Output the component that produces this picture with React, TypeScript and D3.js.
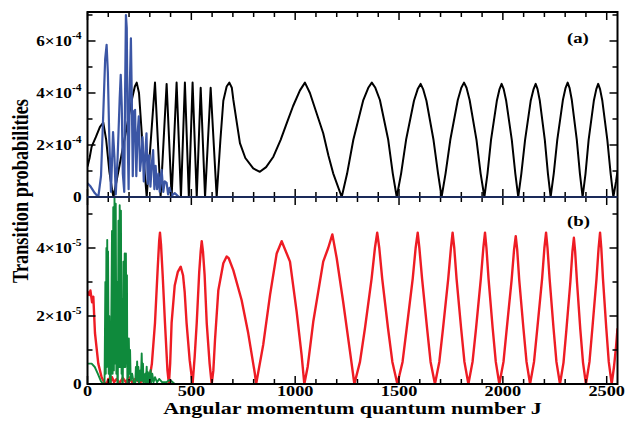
import React from 'react';
import * as d3 from 'd3';

// J (angular momentum) vs transition probability
// panel (a): values in units of 1e-4, panel (b): values in units of 1e-5

const blackA: [number, number][] = [
  [0, 1.17], [10, 1.5], [20, 1.94], [40, 2.3], [60, 2.7], [76, 2.86], [90, 2.2], [105, 1.0], [118, 0.3], [125, 0],
  [180, 2.3], [215, 3.8], [228, 4.25], [237, 4.4], [248, 4.0], [265, 2.0], [285, 0],
  [325, 4.4], [352, 0], [381, 4.35], [405, 0], [429, 4.4], [450, 0], [469, 4.4], [488, 0],
  [506, 4.4], [526, 0], [545, 4.2], [566, 0], [593, 4.2], [622, 0],
  [640, 2.2], [654, 3.7], [670, 4.25], [683, 4.4], [695, 4.2], [702, 3.75], [720, 2.8], [734, 2.07],
  [760, 1.5], [798, 1.1], [830, 0.97], [860, 1.15], [895, 1.55], [930, 2.2], [959, 2.83], [990, 3.5],
  [1023, 4.1], [1047, 4.4], [1071, 4.0], [1100, 3.3], [1135, 2.45], [1160, 1.6], [1183, 0.91], [1224, 0],
  [1250, 0.9], [1280, 2.2], [1328, 3.73], [1352, 4.2], [1369, 4.4], [1386, 4.2], [1408, 3.73], [1448, 2.2], [1470, 0.9], [1489, 0],
  [1510, 0.9], [1534, 2.2], [1572, 3.7], [1590, 4.15], [1604, 4.35], [1616, 4.15], [1632, 3.7], [1666, 2.2], [1688, 0.9], [1705, 0],
  [1724, 0.9], [1747, 2.2], [1783, 3.73], [1800, 4.2], [1813, 4.4], [1825, 4.2], [1840, 3.73], [1873, 2.2], [1893, 0.9], [1911, 0],
  [1926, 0.9], [1943, 2.2], [1971, 3.7], [1984, 4.15], [1994, 4.35], [2004, 4.15], [2016, 3.7], [2043, 2.2], [2060, 0.9], [2074, 0],
  [2089, 0.9], [2107, 2.2], [2134, 3.7], [2148, 4.15], [2158, 4.35], [2167, 4.15], [2178, 3.7], [2202, 2.2], [2217, 0.9], [2230, 0],
  [2245, 0.9], [2262, 2.2], [2289, 3.73], [2302, 4.2], [2312, 4.4], [2321, 4.2], [2332, 3.73], [2356, 2.2], [2371, 0.9], [2384, 0],
  [2398, 0.9], [2413, 2.2], [2438, 3.7], [2450, 4.15], [2459, 4.35], [2468, 4.15], [2479, 3.7], [2503, 2.2], [2519, 0.9], [2532, 0],
  [2545, 0.6], [2552, 1.0],
];

const blueA: [number, number][] = [
  [0, 0.53], [15, 0.4], [35, 0.15], [52, 0], [65, 0.8], [75, 3.0], [85, 5.3], [92, 5.85], [98, 4.8], [105, 2.2],
  [113, 0.2], [123, 2.5], [130, 1.5], [136, 0.1], [145, 1.5], [155, 3.8], [160, 4.7], [165, 3.5], [170, 0.9],
  [177, 0.2], [181, 4.0], [185, 7.0], [189, 6.5], [194, 2.0], [198, 0.3], [203, 4.0], [209, 6.1], [213, 4.0],
  [218, 0.8], [224, 3.3], [229, 3.35], [235, 0.8], [241, 2.4], [247, 3.1], [253, 1.0], [259, 1.5], [265, 2.3],
  [271, 0.6], [278, 1.6], [284, 2.45], [290, 0.5], [297, 1.6], [303, 0.4], [310, 1.3], [316, 1.8], [322, 0.3],
  [328, 1.2], [335, 0.3], [342, 0.9], [348, 0.2], [357, 1.04], [365, 0.2], [372, 0.6], [381, 0.54], [388, 0.1],
  [395, 0.35], [405, 0.05], [420, 0.15], [440, 0], [2552, 0],
];

const redB: [number, number][] = [
  [0, 2.72], [8, 2.62], [14, 2.75], [22, 2.4], [28, 2.57], [36, 1.5], [52, 0.6], [68, 0.2], [80, 0.05], [92, 0],
  [100, 0.15], [108, 0.02], [118, 0.2], [128, 0.05], [140, 0.15], [155, 0.03], [170, 0.18], [185, 0.05], [200, 0.2],
  [215, 0.05], [230, 0.15], [250, 0.05], [270, 0.1], [285, 0.05], [295, 0],
  [310, 0.6], [325, 1.8], [338, 3.4], [345, 4.2], [349, 4.45], [354, 4.1], [362, 3.2], [373, 1.8], [385, 0.4], [392, 0],
  [398, 0.6], [405, 1.8], [420, 2.9], [435, 3.3], [449, 3.45], [460, 3.2], [468, 2.7], [477, 1.8], [492, 0.7], [506, 0],
  [516, 0.8], [526, 1.8], [538, 3.3], [545, 3.9], [550, 4.2], [556, 3.9], [564, 3.2], [574, 1.8], [588, 0.6], [598, 0],
  [606, 0.4], [614, 1.3], [630, 2.76], [654, 3.55], [670, 3.75], [680, 3.7], [702, 3.35], [742, 2.47], [774, 1.49], [806, 0.3], [812, 0],
  [846, 1.15], [879, 2.62], [911, 3.84], [935, 4.2], [975, 3.6], [1007, 2.13], [1031, 0.85], [1044, 0],
  [1060, 0.5], [1087, 1.83], [1135, 3.6], [1159, 4.0], [1179, 4.4], [1200, 3.7], [1231, 2.42], [1264, 0.95], [1285, 0],
  [1312, 0.65], [1336, 1.64], [1368, 3.1], [1384, 4.0], [1395, 4.45], [1405, 4.0], [1419, 3.1], [1447, 1.64], [1468, 0.65], [1492, 0],
  [1517, 0.65], [1537, 1.64], [1566, 3.1], [1580, 4.0], [1590, 4.45], [1598, 4.0], [1611, 3.1], [1635, 1.64], [1652, 0.65], [1673, 0],
  [1694, 0.65], [1712, 1.64], [1737, 3.1], [1750, 4.0], [1758, 4.45], [1766, 4.0], [1777, 3.1], [1799, 1.64], [1815, 0.65], [1834, 0],
  [1854, 0.65], [1871, 1.64], [1894, 3.1], [1906, 4.0], [1914, 4.45], [1921, 4.0], [1931, 3.1], [1951, 1.64], [1966, 0.65], [1983, 0],
  [2003, 0.65], [2019, 1.64], [2042, 3.05], [2054, 3.95], [2062, 4.35], [2069, 3.95], [2079, 3.05], [2099, 1.64], [2114, 0.65], [2131, 0],
  [2150, 0.65], [2166, 1.64], [2189, 3.1], [2200, 4.0], [2208, 4.45], [2215, 4.0], [2225, 3.1], [2244, 1.64], [2258, 0.65], [2275, 0],
  [2292, 0.63], [2306, 1.6], [2325, 3.0], [2335, 3.9], [2342, 4.3], [2348, 3.9], [2357, 3.0], [2373, 1.6], [2386, 0.63], [2400, 0],
  [2417, 0.65], [2431, 1.64], [2451, 3.1], [2461, 4.0], [2468, 4.45], [2474, 4.0], [2482, 3.1], [2498, 1.64], [2510, 0.65], [2524, 0],
  [2535, 0.5], [2545, 1.1], [2552, 1.64],
];

const greenB: [number, number][] = [
  [0, 0.6], [20, 0.6], [35, 0.5], [50, 0.3], [65, 0.08], [75, 0],
  [82, 0], [86, 3.0], [88, 0.3], [91, 4.0], [93, 0.5], [95, 4.24], [97, 0.8], [99, 3.9], [102, 0.3], [105, 2.0], [108, 0],
  [112, 0], [118, 4.5], [121, 0.3], [124, 5.2], [127, 0.4], [130, 5.46], [133, 0.6], [136, 5.3], [139, 0.3], [142, 3.0], [144, 0],
  [146, 0], [149, 4.8], [152, 0.5], [155, 5.26], [158, 0.5], [161, 5.1], [164, 0.3], [166, 2.5], [168, 0],
  [170, 0], [173, 3.6], [176, 0.5], [179, 3.84], [182, 0.5], [185, 3.84], [188, 0.6], [190, 3.2], [192, 0],
  [194, 1.2], [196, 0.2], [199, 1.34], [202, 0.3], [205, 1.0], [208, 0.1], [215, 0.3], [222, 0.05],
  [230, 0], [233, 0.5], [236, 0.1], [239, 0.66], [242, 0.1], [245, 0.5], [248, 0], [254, 0.4], [257, 0.1],
  [261, 0.9], [264, 0.1], [267, 0.6], [270, 0], [278, 0.3], [281, 0.05], [285, 0.51], [288, 0.05], [291, 0.35],
  [295, 0], [300, 0.3], [304, 0.41], [307, 0.05], [312, 0.3], [318, 0.05], [325, 0.2], [335, 0.05], [345, 0.15],
  [360, 0.05], [380, 0.05], [395, 0.12], [405, 0.08], [420, 0], [2552, 0],
];

const jMajor = [0, 500, 1000, 1500, 2000, 2500];
const yTicksA = [0, 2, 4, 6];
const yTicksB = [0, 2, 4];

const W = 627;
const H = 425;
const FONT = '"Liberation Serif", "Times New Roman", serif';
// the original figure's lettering is a little stretched horizontally
const SX = 1.22;

const App = () => {
  const x = d3.scaleLinear().domain([0, 2552]).range([87.5, 617.5]);
  const yA = d3.scaleLinear().domain([0, 7.115]).range([197, 12]);
  const yB = d3.scaleLinear().domain([0, 5.5]).range([384, 197]);

  const lineA = d3.line<[number, number]>().x(d => x(d[0])).y(d => yA(d[1]));
  const lineB = d3.line<[number, number]>().x(d => x(d[0])).y(d => yB(d[1]));

  const jMinor = d3.range(100, 2552, 100).filter(v => v % 500 !== 0);
  const yMinorA = [1, 3, 5, 7];
  const yMinorB = [1, 3, 5];

  const [x0, x1] = x.range();

  // ticks for one panel, all pointing inward
  const panelTicks = (y: d3.ScaleLinear<number, number>, major: number[], minor: number[], key: string) => {
    const [yb, yt] = y.range();
    const out: JSX.Element[] = [];
    jMajor.forEach(v => {
      out.push(<line key={`${key}xt${v}`} x1={x(v)} x2={x(v)} y1={yt} y2={yt + 8} />);
      out.push(<line key={`${key}xb${v}`} x1={x(v)} x2={x(v)} y1={yb} y2={yb - 8} />);
    });
    jMinor.forEach(v => {
      out.push(<line key={`${key}mt${v}`} x1={x(v)} x2={x(v)} y1={yt} y2={yt + 5} />);
      out.push(<line key={`${key}mb${v}`} x1={x(v)} x2={x(v)} y1={yb} y2={yb - 5} />);
    });
    major.forEach(v => {
      out.push(<line key={`${key}yl${v}`} x1={x0} x2={x0 + 8} y1={y(v)} y2={y(v)} />);
      out.push(<line key={`${key}yr${v}`} x1={x1} x2={x1 - 8} y1={y(v)} y2={y(v)} />);
    });
    minor.forEach(v => {
      out.push(<line key={`${key}ml${v}`} x1={x0} x2={x0 + 5} y1={y(v)} y2={y(v)} />);
      out.push(<line key={`${key}mr${v}`} x1={x1} x2={x1 - 5} y1={y(v)} y2={y(v)} />);
    });
    return out;
  };

  const yLabel = (v: number, y: number, exp: string, key: string) => (
    <text key={key} transform={`translate(81.5,${y + 5}) scale(1.15,1)`} textAnchor="end" fontSize={15} fontWeight="bold">
      {v === 0 ? '0' : `${v}×10`}
      {v !== 0 && <tspan dy={-7} fontSize={10}>{exp}</tspan>}
    </text>
  );

  return (
    <svg width={W} height={H} style={{ position: 'absolute', left: 0, top: 0, background: '#fff' }} fontFamily={FONT}>
      <defs>
        <clipPath id="clipA"><rect x={x0} y={11} width={x1 - x0} height={187} /></clipPath>
        <clipPath id="clipB"><rect x={x0} y={196} width={x1 - x0} height={189} /></clipPath>
      </defs>

      <g clipPath="url(#clipA)" fill="none" strokeLinejoin="round">
        <path d={lineA(blackA) || ''} stroke="#000" strokeWidth={2} />
        <path d={lineA(blueA) || ''} stroke="#3b56a5" strokeWidth={2.2} />
      </g>
      <g clipPath="url(#clipB)" fill="none" strokeLinejoin="round">
        <path d={lineB(redB) || ''} stroke="#ee1c24" strokeWidth={2.4} />
        <path d={lineB(greenB) || ''} stroke="#0f8a3c" strokeWidth={1.9} />
      </g>

      <g stroke="#000" strokeWidth={1.5}>
        {panelTicks(yA, yTicksA, yMinorA, 'a')}
        {panelTicks(yB, yTicksB, yMinorB, 'b')}
      </g>
      <g fill="none" stroke="#000" strokeWidth={2}>
        <rect x={x0} y={12} width={x1 - x0} height={372} />
        <line x1={x0} x2={x1} y1={197} y2={197} stroke="#1a2a5a" />
      </g>

      {yTicksA.map(v => yLabel(v, yA(v), '-4', `la${v}`))}
      {yTicksB.filter(v => v > 0).map(v => yLabel(v, yB(v), '-5', `lb${v}`))}
      {yLabel(0, yB(0), '', 'lb0')}

      {jMajor.map(v => (
        <text key={`xl${v}`} transform={`translate(${x(v)},396) scale(${SX},1)`} textAnchor="middle" fontSize={15} fontWeight="bold">{v}</text>
      ))}

      <text transform={`translate(${(x0 + x1) / 2},414) scale(${SX + 0.04},1)`} textAnchor="middle" fontSize={17.5} fontWeight="bold">
        Angular momentum quantum number J
      </text>
      <text transform={`translate(28,191) scale(1.3,1) rotate(-90)`} textAnchor="middle" fontSize={18.3} fontWeight="bold">
        Transition probabilities
      </text>

      <text transform={`translate(567,43) scale(1.25,1)`} fontSize={15} fontWeight="bold">(a)</text>
      <text transform={`translate(567,226) scale(1.25,1)`} fontSize={15} fontWeight="bold">(b)</text>
    </svg>
  );
};

export default App;
